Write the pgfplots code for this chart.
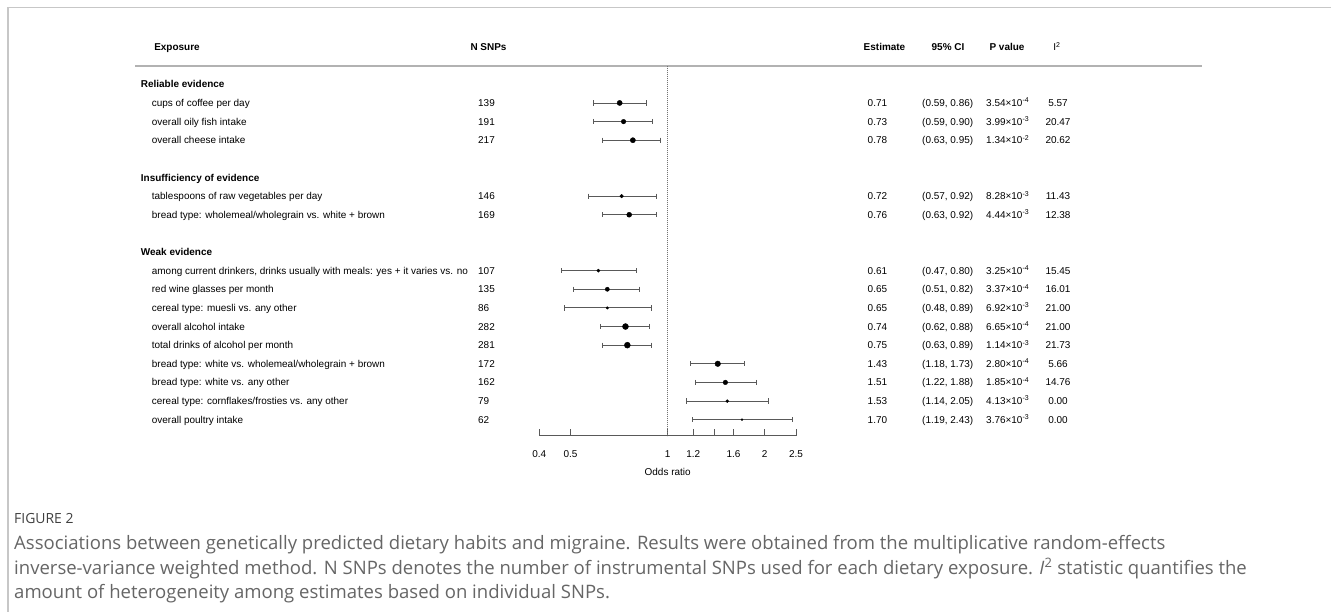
\documentclass[border=0pt]{standalone}
\usepackage{fontspec}
\setmainfont{Liberation Sans}
\newfontfamily\capfont{Open Sans}
\usepackage{pgfplots}
\pgfplotsset{compat=1.18}
\usepackage{pgfplotstable}

% row index, odds ratio, CI low, CI high, marker radius
\pgfplotstableread{
r or lo hi s
-2 0.71 0.59 0.86 2.6
-3 0.73 0.59 0.90 2.3
-4 0.78 0.63 0.95 2.6
-7 0.72 0.57 0.92 1.8
-8 0.76 0.63 0.92 2.5
-11 0.61 0.47 0.80 1.6
-12 0.65 0.51 0.82 2.1
-13 0.65 0.48 0.89 1.3
-14 0.74 0.62 0.88 3.0
-15 0.75 0.63 0.89 3.0
-16 1.43 1.18 1.73 2.8
-17 1.51 1.22 1.88 2.3
-18 1.53 1.14 2.05 1.5
-19 1.70 1.19 2.43 1.0
}\est

\newcommand\RY[1]{\fpeval{65.67+18.63*(#1)+3.6}}
\newcommand\entry[7]{%
  \node[anchor=base west] at (151.7,\RY{#1}) {#2};
  \node[anchor=base west] at (478,\RY{#1}) {#3};
  \node[anchor=base west] at (867.5,\RY{#1}) {#4};
  \node[anchor=base west] at (922,\RY{#1}) {#5};
  \node[anchor=base west] at (986,\RY{#1}) {#6};
  \node[anchor=base] at (1058,\RY{#1}) {#7};
}
\newcommand\sect[2]{\node[anchor=base west,font=\fontsize{10}{12}\selectfont\bfseries] at (140.7,\RY{#1}) {#2};}
\newcommand\ee[1]{\texttimes10\textsuperscript{#1}}

\begin{document}
\begin{tikzpicture}[x=1bp,y=-1bp,font=\fontsize{10}{12}\selectfont,inner sep=0pt]
\useasboundingbox (0,0) rectangle (1331,612);
\fill[white] (0,0) rectangle (1331,612);
% frame
\draw[black!22,line width=1.5bp] (8,612) -- (8,7.5) -- (1331,7.5);
% header rule
\draw[black!30,line width=2bp] (135,65.67) -- (1201.5,65.67);

\begin{axis}[
  at={(539.3bp,-435.7bp)}, anchor=south west,
  scale only axis, width=256.7bp, height=370bp,
  xmode=log, xmin=0.4, xmax=2.5, ymin=-19.86, ymax=0,
  axis x line=bottom, axis y line=none,
  axis line style={-,draw=black!65,line width=0.8bp},
  xtick={0.4,0.5,1,1.2,1.4,1.6,2,2.5},
  xticklabels={0.4,0.5,1,1.2,,1.6,2,2.5},
  minor xtick={}, tick align=inside, major tick length=7bp,
  tick style={draw=black!65,line width=0.8bp},
  xticklabel style={font=\fontsize{10}{12}\selectfont,yshift=-14.5bp},
  /pgf/number format/assume math mode=true,
  clip=false,
]
\addplot[black!55,dash pattern=on 0.8bp off 1.2bp,line width=0.7bp] coordinates {(1,0) (1,-19.86)};
\addplot[black!65,line width=0.9bp,mark=|,mark size=2.6bp,mark options={solid},unbounded coords=jump] coordinates {
(0.59,-2) (0.86,-2) (nan,nan)
(0.59,-3) (0.90,-3) (nan,nan)
(0.63,-4) (0.95,-4) (nan,nan)
(0.57,-7) (0.92,-7) (nan,nan)
(0.63,-8) (0.92,-8) (nan,nan)
(0.47,-11) (0.80,-11) (nan,nan)
(0.51,-12) (0.82,-12) (nan,nan)
(0.48,-13) (0.89,-13) (nan,nan)
(0.62,-14) (0.88,-14) (nan,nan)
(0.63,-15) (0.89,-15) (nan,nan)
(1.18,-16) (1.73,-16) (nan,nan)
(1.22,-17) (1.88,-17) (nan,nan)
(1.14,-18) (2.05,-18) (nan,nan)
(1.19,-19) (2.43,-19)
};
\addplot[scatter,only marks,mark=*,
  scatter/use mapped color={draw=black,fill=black},
  visualization depends on={\thisrow{s}\as\ms},
  scatter/@pre marker code/.append style={/tikz/mark size=\ms bp}]
  table[x=or,y=r] {\est};
\end{axis}

\node at (667.65,472) {Odds ratio};

% headers
\begin{scope}[font=\fontsize{10}{12}\selectfont\bfseries]
\node[anchor=base] at (177,\RY{-1}) {Exposure};
\node[anchor=base] at (488.5,\RY{-1}) {N SNPs};
\node[anchor=base] at (884.5,\RY{-1}) {Estimate};
\node[anchor=base] at (948,\RY{-1}) {95\% CI};
\node[anchor=base] at (1007,\RY{-1}) {P value};
\end{scope}
\node[anchor=base] at (1057,\RY{-1}) {I\textsuperscript{2}};

\sect{1}{Reliable evidence}
\entry{2}{cups of coffee per day}{139}{0.71}{(0.59, 0.86)}{3.54\ee{-4}}{5.57}
\entry{3}{overall oily fish intake}{191}{0.73}{(0.59, 0.90)}{3.99\ee{-3}}{20.47}
\entry{4}{overall cheese intake}{217}{0.78}{(0.63, 0.95)}{1.34\ee{-2}}{20.62}
\sect{6}{Insufficiency of evidence}
\entry{7}{tablespoons of raw vegetables per day}{146}{0.72}{(0.57, 0.92)}{8.28\ee{-3}}{11.43}
\entry{8}{bread type: wholemeal/wholegrain vs. white + brown}{169}{0.76}{(0.63, 0.92)}{4.44\ee{-3}}{12.38}
\sect{10}{Weak evidence}
\entry{11}{among current drinkers, drinks usually with meals: yes + it varies vs. no}{107}{0.61}{(0.47, 0.80)}{3.25\ee{-4}}{15.45}
\entry{12}{red wine glasses per month}{135}{0.65}{(0.51, 0.82)}{3.37\ee{-4}}{16.01}
\entry{13}{cereal type: muesli vs. any other}{86}{0.65}{(0.48, 0.89)}{6.92\ee{-3}}{21.00}
\entry{14}{overall alcohol intake}{282}{0.74}{(0.62, 0.88)}{6.65\ee{-4}}{21.00}
\entry{15}{total drinks of alcohol per month}{281}{0.75}{(0.63, 0.89)}{1.14\ee{-3}}{21.73}
\entry{16}{bread type: white vs. wholemeal/wholegrain + brown}{172}{1.43}{(1.18, 1.73)}{2.80\ee{-4}}{5.66}
\entry{17}{bread type: white vs. any other}{162}{1.51}{(1.22, 1.88)}{1.85\ee{-4}}{14.76}
\entry{18}{cereal type: cornflakes/frosties vs. any other}{79}{1.53}{(1.14, 2.05)}{4.13\ee{-3}}{0.00}
\entry{19}{overall poultry intake}{62}{1.70}{(1.19, 2.43)}{3.76\ee{-3}}{0.00}

% caption
\begin{scope}[font=\capfont\fontsize{18.6}{22}\selectfont,text=black!60]
\node[anchor=base west,font=\capfont\fontsize{14}{18}\selectfont,text=black!75] at (14,523.5) {FIGURE 2};
\node[anchor=base west] at (14,549) {Associations between genetically predicted dietary habits and migraine. Results were obtained from the multiplicative random-effects};
\node[anchor=base west] at (14,574) {inverse-variance weighted method. N SNPs denotes the number of instrumental SNPs used for each dietary exposure. \textit{I}\textsuperscript{2} statistic quantifies the};
\node[anchor=base west] at (14,598.5) {amount of heterogeneity among estimates based on individual SNPs.};
\end{scope}
\end{tikzpicture}
\end{document}
